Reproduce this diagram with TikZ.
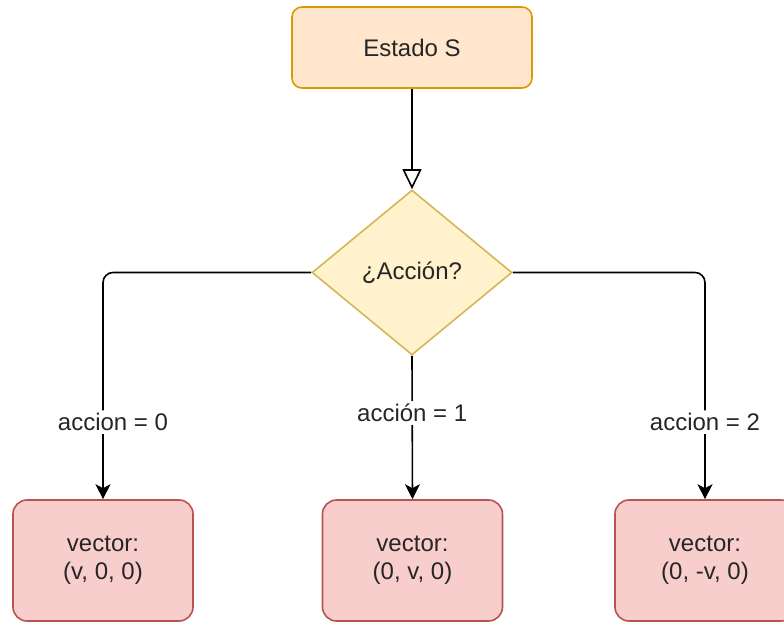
\documentclass[tikz,border=0pt]{standalone}
\usepackage{fontspec}
\setmainfont{Liberation Sans}
\usetikzlibrary{shapes.geometric,arrows.meta}

\definecolor{estadoF}{HTML}{FFE6CC}
\definecolor{estadoB}{HTML}{D79B00}
\definecolor{preguntaF}{HTML}{FFF2CC}
\definecolor{preguntaB}{HTML}{D6B656}
\definecolor{vectorF}{HTML}{F8CECC}
\definecolor{vectorB}{HTML}{B85450}
\definecolor{texto}{HTML}{262626}

\begin{document}
\begin{tikzpicture}[x=0.5pt, y=-0.5pt, line width=0.8pt, >={Stealth[width=7.5pt,length=7.5pt,inset=2pt]},
		every node/.style={font=\fontsize{12}{14}\selectfont, text=texto},
		estado/.style={draw=estadoB, fill=estadoF, rounded corners=5pt, minimum width=120pt, minimum height=40.5pt},
		pregunta/.style={diamond, draw=preguntaB, fill=preguntaF, inner sep=0pt, minimum width=100pt, minimum height=82.5pt},
		vectorbox/.style={draw=vectorB, fill=vectorF, rounded corners=7pt, align=center, minimum width=90pt, minimum height=60.5pt},
		etiqueta/.style={fill=white, inner sep=1.5pt}]
		\useasboundingbox (0, 0) rectangle (784, 623);
		\fill[white] (0, 0) rectangle (784, 623);

		\node[estado] (estado) at (412, 47.5) {Estado S};
		\node[pregunta] (accion) at (412, 272.5) {¿Acción?};
		\node[vectorbox] (vec0) at (103, 560.5) {vector:\\(v, 0, 0)};
		\node[vectorbox] (vec1) at (412.5, 560.5) {vector:\\(0, v, 0)};
		\node[vectorbox] (vec2) at (705, 560.5) {vector:\\(0, -v, 0)};

		\draw[-{Triangle[open,width=9.5pt,length=10pt]}] (estado) -- (accion);
		\draw[->, rounded corners=5pt] (accion.west) -| node[etiqueta, pos=0.83, xshift=5pt] {accion = 0} (vec0.north);
		\draw[->] (accion.south) -- node[etiqueta, pos=0.4] {acción = 1} (vec1.north);
		\draw[->, rounded corners=5pt] (accion.east) -| node[etiqueta, pos=0.83] {accion = 2} (vec2.north);
	\end{tikzpicture}
\end{document}
